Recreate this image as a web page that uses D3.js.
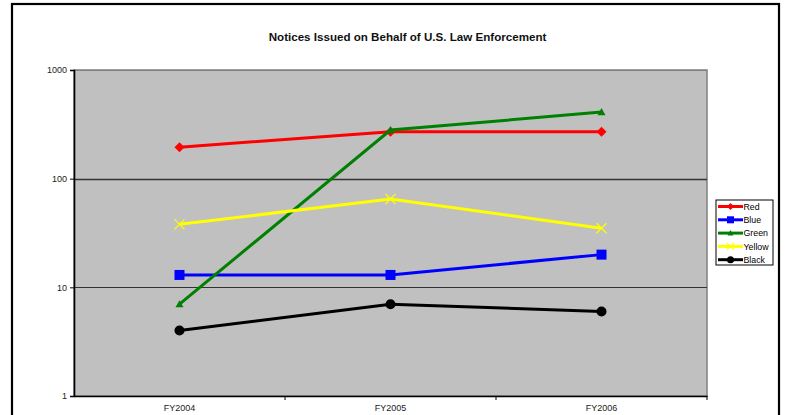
<!DOCTYPE html>
<html><head><meta charset="utf-8">
<script src="https://cdn.jsdelivr.net/npm/d3@7"></script>
<style>body{margin:0;background:#fff;} svg{display:block;font-family:"Liberation Sans",Arial,sans-serif;}</style>
</head><body>
<svg id="c" width="785" height="415"></svg>
<script>
const categories = ["FY2004", "FY2005", "FY2006"];
const seriesNames = ["Red", "Blue", "Green", "Yellow", "Black"];
const redValues = [195, 270, 270];
const blueValues = [13, 13, 20];
const greenValues = [7, 280, 410];
const yellowValues = [38, 65, 35];
const blackValues = [4, 7, 6];
const yTicks = [1, 10, 100, 1000];
const title = "Notices Issued on Behalf of U.S. Law Enforcement";

const series = [
  {name: "Red", values: redValues, color: "#ff0000", marker: "diamond"},
  {name: "Blue", values: blueValues, color: "#0000ff", marker: "square"},
  {name: "Green", values: greenValues, color: "#008000", marker: "triangle"},
  {name: "Yellow", values: yellowValues, color: "#ffff00", marker: "x"},
  {name: "Black", values: blackValues, color: "#000000", marker: "circle"}
];

const svg = d3.select("#c");
const L = 74, R = 707, T = 70, B = 396;

// outer frame
svg.append("rect").attr("x", 12).attr("y", 4).attr("width", 767).attr("height", 430)
  .attr("fill", "#fff").attr("stroke", "#000").attr("stroke-width", 2.2);

svg.append("text").attr("x", 407.5).attr("y", 41).attr("text-anchor", "middle")
  .attr("font-size", 11.6).attr("font-weight", "bold").attr("fill", "#111").text(title);

const x = d3.scaleBand().domain(categories).range([L, R]);
const y = d3.scaleLog().domain([1, 1000]).range([B, T]);

svg.append("rect").attr("x", L).attr("y", T).attr("width", R - L).attr("height", B - T)
  .attr("fill", "#c0c0c0").attr("stroke", "#808080").attr("stroke-width", 1.5);

// gridlines
svg.append("g").selectAll("line").data(yTicks.slice(1)).join("line")
  .attr("x1", L).attr("x2", R).attr("y1", d => Math.round(y(d)) + 0.5).attr("y2", d => Math.round(y(d)) + 0.5)
  .attr("stroke", d => d === 1000 ? "#808080" : "#333").attr("stroke-width", d => d === 100 ? 1.6 : 1.1);

// axes
const yAxis = d3.axisLeft(y).tickValues(yTicks).tickFormat(d3.format("d")).tickSize(4).tickPadding(3);
const gy = svg.append("g").attr("transform", `translate(${L},0)`).call(yAxis);
const xAxis = d3.axisBottom(x).tickSize(0).tickPadding(9);
const gx = svg.append("g").attr("transform", `translate(0,${B})`).call(xAxis);
[gx, gy].forEach(g => {
  g.select(".domain").attr("stroke", "#000").attr("stroke-width", 1.6);
  g.selectAll("text").attr("font-size", 9).attr("fill", "#222").attr("font-family", "Liberation Sans,Arial,sans-serif");
  g.selectAll(".tick line").attr("stroke", "#000");
});
// x tick marks between categories
svg.append("g").selectAll("line").data(categories.slice(1).concat(["__end"])).join("line")
  .attr("x1", d => d === "__end" ? R : x(d)).attr("x2", d => d === "__end" ? R : x(d))
  .attr("y1", B).attr("y2", B + 4).attr("stroke", "#000").attr("stroke-width", 1);

const cx = c => x(c) + x.bandwidth() / 2;
const line = d3.line().x((d, i) => cx(categories[i])).y(d => y(d));

function marker(g, type, color, px, py, s) {
  if (type === "diamond") g.append("path").attr("d", `M${px},${py - s}L${px + s},${py}L${px},${py + s}L${px - s},${py}Z`).attr("fill", color);
  else if (type === "square") g.append("rect").attr("x", px - s).attr("y", py - s).attr("width", 2 * s).attr("height", 2 * s).attr("fill", color);
  else if (type === "triangle") g.append("path").attr("d", `M${px},${py - s}L${px + s},${py + s * 0.8}L${px - s},${py + s * 0.8}Z`).attr("fill", color);
  else if (type === "circle") g.append("circle").attr("cx", px).attr("cy", py).attr("r", s).attr("fill", color);
  else if (type === "x") g.append("path").attr("d", `M${px - s},${py - s}L${px + s},${py + s}M${px - s},${py + s}L${px + s},${py - s}`).attr("stroke", color).attr("stroke-width", 1.2);
}
const msize = {diamond: 5, square: 5, triangle: 4, circle: 5, x: 5};

series.forEach(s => {
  const g = svg.append("g");
  g.append("path").datum(s.values).attr("d", line).attr("fill", "none")
    .attr("stroke", s.color).attr("stroke-width", 3);
  s.values.forEach((v, i) => marker(g, s.marker, s.color, cx(categories[i]), y(v), msize[s.marker]));
});

// legend
const lg = svg.append("g");
lg.append("rect").attr("x", 716).attr("y", 200).attr("width", 57).attr("height", 65)
  .attr("fill", "#fff").attr("stroke", "#000").attr("stroke-width", 1);
series.forEach((s, i) => {
  const ly = 206.5 + i * 13.3;
  lg.append("line").attr("x1", 718).attr("x2", 743).attr("y1", ly).attr("y2", ly)
    .attr("stroke", s.color).attr("stroke-width", 3);
  marker(lg, s.marker, s.color, 730.5, ly, s.marker === "triangle" ? 3 : 3.5);
  lg.append("text").attr("x", 743.5).attr("y", ly + 3.2).attr("font-size", 8.8).attr("fill", "#000").text(s.name);
});
</script>
</body></html>
